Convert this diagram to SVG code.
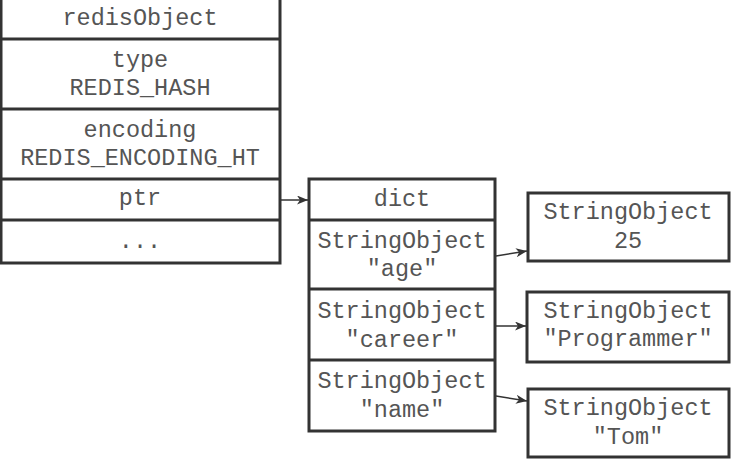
<svg xmlns="http://www.w3.org/2000/svg" width="731" height="459" viewBox="0 0 731 459">
<style>
.box{fill:#fff;stroke:#333;stroke-width:3}
.ln{stroke:#333;stroke-width:3}
text{font-family:"Liberation Mono","Courier New",monospace;font-size:23.5px;fill:#555;text-anchor:middle}
.con{stroke:#333;stroke-width:1.5;fill:none;marker-end:url(#ah)}
</style>
<defs>
<marker id="ah" viewBox="0 0 11 9" refX="11" refY="4.5" markerWidth="11" markerHeight="9" markerUnits="userSpaceOnUse" orient="auto">
<path d="M0,0 L11,4.5 L0,9 L3,4.5 z" fill="#333"/>
</marker>
</defs>
<rect width="731" height="459" fill="#fff"/>
<g id="redisObject">
<rect class="box" x="1" y="-5" width="279" height="268"/>
<line class="ln" x1="1" y1="39" x2="280" y2="39"/>
<line class="ln" x1="1" y1="109" x2="280" y2="109"/>
<line class="ln" x1="1" y1="179" x2="280" y2="179"/>
<line class="ln" x1="1" y1="220" x2="280" y2="220"/>
<text x="140" y="25">redisObject</text>
<text x="140" y="67">type</text>
<text x="140" y="95">REDIS_HASH</text>
<text x="140" y="137">encoding</text>
<text x="140" y="165">REDIS_ENCODING_HT</text>
<text x="140" y="205">ptr</text>
<text x="140" y="248">...</text>
</g>
<g id="dict">
<rect class="box" x="309" y="179" width="186" height="252"/>
<line class="ln" x1="309" y1="220" x2="495" y2="220"/>
<line class="ln" x1="309" y1="289" x2="495" y2="289"/>
<line class="ln" x1="309" y1="360" x2="495" y2="360"/>
<text x="402" y="206">dict</text>
<text x="402" y="248">StringObject</text>
<text x="402" y="276">"age"</text>
<text x="402" y="318">StringObject</text>
<text x="402" y="347">"career"</text>
<text x="402" y="388">StringObject</text>
<text x="402" y="417">"name"</text>
</g>
<g id="val25">
<rect class="box" x="528" y="193" width="201" height="68"/>
<text x="628" y="219">StringObject</text>
<text x="628" y="248">25</text>
</g>
<g id="valProgrammer">
<rect class="box" x="527" y="292" width="202" height="70"/>
<text x="628" y="318">StringObject</text>
<text x="628" y="346">"Programmer"</text>
</g>
<g id="valTom">
<rect class="box" x="528" y="389" width="201" height="68"/>
<text x="628" y="415">StringObject</text>
<text x="628" y="444">"Tom"</text>
</g>
<g id="connectors">
<line class="con" x1="281" y1="200" x2="308" y2="200"/>
<line class="con" x1="496" y1="256" x2="527" y2="251"/>
<line class="con" x1="496" y1="326" x2="526" y2="326"/>
<line class="con" x1="496" y1="396" x2="527" y2="401"/>
</g>
</svg>
